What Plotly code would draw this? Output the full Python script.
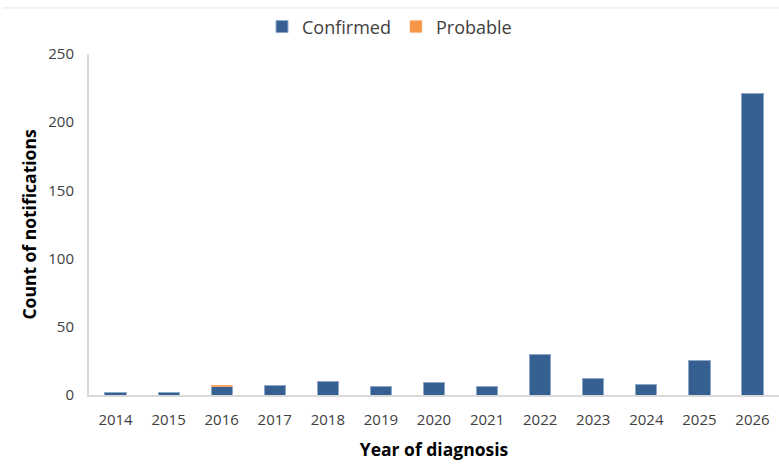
import plotly.graph_objects as go

years = ["2014", "2015", "2016", "2017", "2018", "2019", "2020", "2021", "2022", "2023", "2024", "2025", "2026"]
confirmed = [2, 2, 6, 7, 10, 6, 9, 6, 30, 12, 8, 25, 221]
probable = [None, None, 1, None, None, None, None, None, None, None, None, None, None]

font_family = "Open Sans, Liberation Sans, sans-serif"

fig = go.Figure()
fig.add_trace(go.Bar(x=years, y=confirmed, name="Confirmed",
                     marker=dict(color="#366092", line=dict(color="#8EA9C8", width=1))))
fig.add_trace(go.Bar(x=years, y=probable, name="Probable",
                     marker=dict(color="#F79646", line=dict(color="#F9B98A", width=0.5))))

fig.update_layout(
    width=779, height=464,
    barmode="stack", bargap=0.6,
    plot_bgcolor="white", paper_bgcolor="white",
    margin=dict(l=89, r=0, t=54, b=69, autoexpand=False),
    font=dict(family=font_family, size=15, color="#404040"),
    legend=dict(orientation="h", x=0.5, xref="container", xanchor="center",
                y=0.982, yref="container", yanchor="top", bgcolor="rgba(0,0,0,0)",
                font=dict(size=18, color="#404040"), traceorder="normal"),
    xaxis=dict(title=dict(text="<b>Year of diagnosis</b>", font=dict(size=17.5, color="#000000"), standoff=16),
               range=[-0.5, 12.5], automargin=False, ticklabelstandoff=10,
               showline=True, linecolor="#D9D9D9", linewidth=2, ticks="", tickfont=dict(size=15, color="#404040")),
    yaxis=dict(title=dict(text="<b>Count of notifications</b>", font=dict(size=17.5, color="#000000"), standoff=7),
               range=[0, 250], dtick=50, showgrid=False, zeroline=False, automargin=False, ticklabelstandoff=10,
               showline=True, linecolor="#D9D9D9", linewidth=2, ticks="",
               tickfont=dict(size=15, color="#404040")),
)
fig.add_shape(type="line", xref="paper", yref="paper", x0=-0.125, x1=1.0, y0=1.135, y1=1.135,
              line=dict(color="#E6E6E6", width=1))

fig.write_html("out.html", config={"displayModeBar": False},
               post_script="document.body.style.margin='0';document.body.style.overflow='hidden';")
